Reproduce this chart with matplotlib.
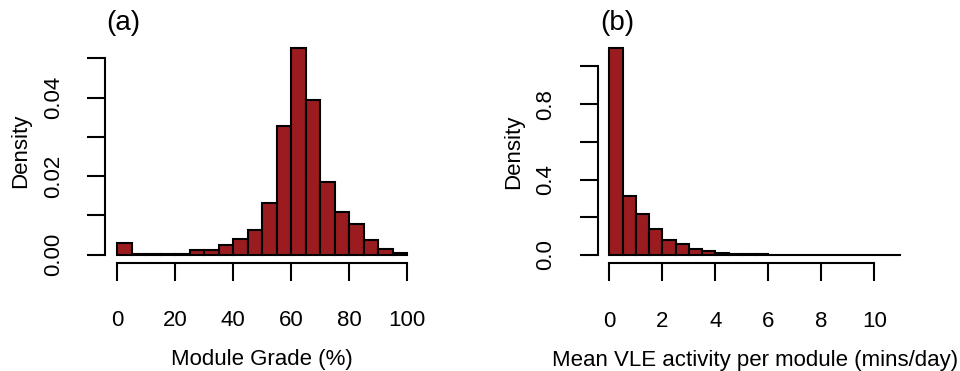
import numpy as np
import matplotlib.pyplot as plt

plt.rcParams['font.family'] = ['Liberation Sans', 'DejaVu Sans']

# Panel (a): module grade histogram, 5 % bins from 0 to 100
grade_edges = np.arange(0, 105, 5)
grade_density = [0.0030, 0.0003, 0.0001, 0.0002, 0.0003, 0.0011, 0.0013, 0.0024,
                 0.0040, 0.0063, 0.0131, 0.0327, 0.0527, 0.0395, 0.0185, 0.0109,
                 0.0079, 0.0038, 0.0015, 0.0004]

# Panel (b): mean VLE activity histogram, 0.5 bins from 0 to 11
vle_edges = np.arange(0, 11.5, 0.5)
vle_density = [1.096, 0.313, 0.216, 0.138, 0.080, 0.057, 0.032, 0.021, 0.012,
               0.008, 0.005, 0.003, 0.002, 0.0015, 0.001, 0.001, 0.0008, 0.0006,
               0.0005, 0.0004, 0.0003, 0.0002]

bar_color = '#9a1c1f'
W, H = 960, 371
fs = 16

fig = plt.figure(figsize=(9.6, 3.71), dpi=100)


def make_axes(left, right, top, bottom):
    return fig.add_axes([left / W, (H - bottom) / H, (right - left) / W, (bottom - top) / H])


def style(ax, xb, yb, xticks, yticks, ylabels):
    for s in ['top', 'right']:
        ax.spines[s].set_visible(False)
    ax.spines['bottom'].set_bounds(*xb)
    ax.spines['left'].set_bounds(*yb)
    for s in ['bottom', 'left']:
        ax.spines[s].set_linewidth(1.5)
    ax.set_xticks(xticks)
    ax.set_yticks(yticks)
    ax.set_yticklabels(ylabels, rotation=90, va='center')
    ax.tick_params(axis='both', length=13, width=1.5, labelsize=fs)
    ax.tick_params(axis='x', pad=21)
    ax.tick_params(axis='y', pad=17)


ax1 = make_axes(105.4, 418.6, 39.6, 263)
ax1.bar(grade_edges[:-1], grade_density, width=np.diff(grade_edges), align='edge',
        color=bar_color, edgecolor='black', linewidth=1.5)
ax1.set_xlim(-4, 104)
ax1.set_ylim(-0.0021, 0.0548)
style(ax1, (0, 100), (0, 0.05), [0, 20, 40, 60, 80, 100],
      [0, 0.01, 0.02, 0.03, 0.04, 0.05], ['0.00', '', '0.02', '', '0.04', ''])
ax1.set_xlabel('Module Grade (%)', fontsize=fs, labelpad=13)
ax1.set_ylabel('Density', fontsize=fs, labelpad=8)
fig.text(123 / W, 1 - 23 / H, '(a)', fontsize=20, ha='center', va='center')

ax2 = make_axes(597.6, 912.5, 40.1, 263.3)
ax2.bar(vle_edges[:-1], vle_density, width=np.diff(vle_edges), align='edge',
        color=bar_color, edgecolor='black', linewidth=1.5)
ax2.set_xlim(-0.44, 11.44)
ax2.set_ylim(-0.0438, 1.14)
style(ax2, (0, 10), (0, 1.0), [0, 2, 4, 6, 8, 10],
      [0, 0.2, 0.4, 0.6, 0.8, 1.0], ['0.0', '', '0.4', '', '0.8', ''])
ax2.set_xlabel('Mean VLE activity per module (mins/day)', fontsize=fs, labelpad=13)
ax2.set_ylabel('Density', fontsize=fs, labelpad=8)
fig.text(617 / W, 1 - 23 / H, '(b)', fontsize=20, ha='center', va='center')

fig.savefig('out.png', dpi=100)
